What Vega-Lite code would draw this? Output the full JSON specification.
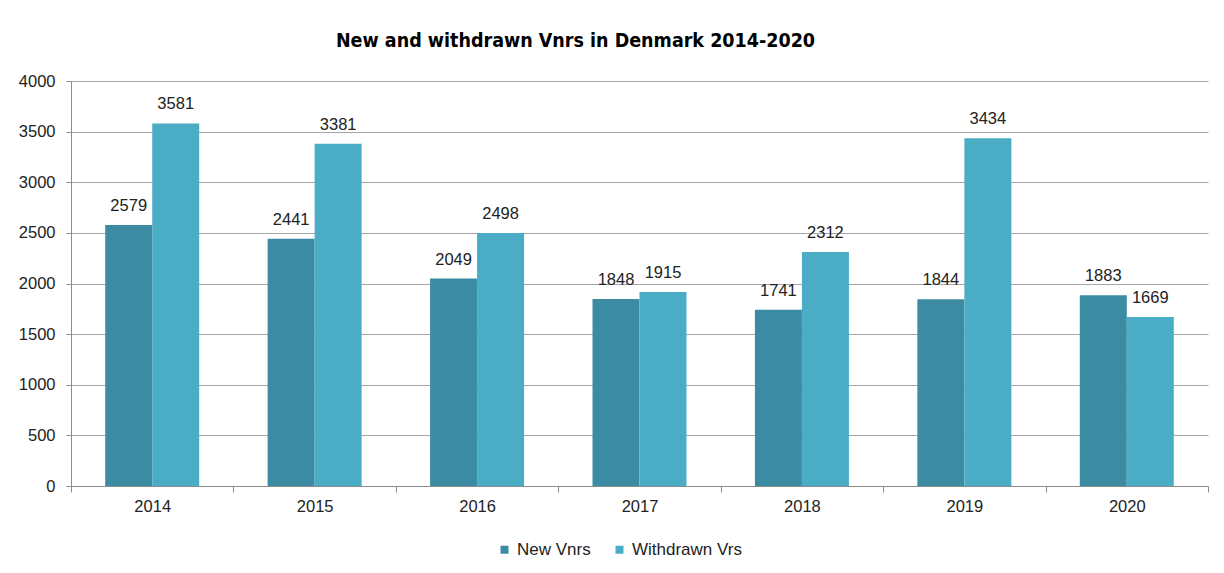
{
  "$schema": "https://vega.github.io/schema/vega-lite/v6.json",
  "width": 1137,
  "height": 405,
  "autosize": "none",
  "padding": {"left": 71, "top": 81, "right": 16, "bottom": 87},
  "background": "white",
  "title": {
    "text": "New and withdrawn Vnrs in Denmark 2014-2020",
    "font": "DejaVu Sans Condensed, Liberation Sans",
    "fontSize": 19.5,
    "fontWeight": "bold",
    "color": "#000000",
    "anchor": "middle",
    "frame": "group",
    "dx": -64,
    "offset": 22
  },
  "data": {
    "values": [
      {"year": "2014", "series": "New Vnrs", "value": 2579},
      {"year": "2014", "series": "Withdrawn Vrs", "value": 3581},
      {"year": "2015", "series": "New Vnrs", "value": 2441},
      {"year": "2015", "series": "Withdrawn Vrs", "value": 3381},
      {"year": "2016", "series": "New Vnrs", "value": 2049},
      {"year": "2016", "series": "Withdrawn Vrs", "value": 2498},
      {"year": "2017", "series": "New Vnrs", "value": 1848},
      {"year": "2017", "series": "Withdrawn Vrs", "value": 1915},
      {"year": "2018", "series": "New Vnrs", "value": 1741},
      {"year": "2018", "series": "Withdrawn Vrs", "value": 2312},
      {"year": "2019", "series": "New Vnrs", "value": 1844},
      {"year": "2019", "series": "Withdrawn Vrs", "value": 3434},
      {"year": "2020", "series": "New Vnrs", "value": 1883},
      {"year": "2020", "series": "Withdrawn Vrs", "value": 1669}
    ]
  },
  "encoding": {
    "x": {
      "field": "year",
      "type": "nominal",
      "scale": {"paddingInner": 0, "paddingOuter": 0},
      "axis": {
        "title": null,
        "labelAngle": 0,
        "labelFont": "Liberation Sans",
        "labelFontSize": 16.5,
        "labelColor": "#222222",
        "labelPadding": 6,
        "tickBand": "extent",
        "tickSize": 6,
        "tickColor": "#8c8c8c",
        "domainColor": "#8c8c8c",
        "grid": false
      }
    },
    "xOffset": {
      "field": "series",
      "type": "nominal",
      "scale": {"paddingInner": 0, "paddingOuter": 0.728}
    },
    "y": {
      "field": "value",
      "type": "quantitative",
      "scale": {"domain": [0, 4000], "nice": false},
      "axis": {
        "title": null,
        "values": [0, 500, 1000, 1500, 2000, 2500, 3000, 3500, 4000],
        "format": "d",
        "labelFont": "Liberation Sans",
        "labelFontSize": 16.5,
        "labelColor": "#222222",
        "labelPadding": 11,
        "tickSize": 5,
        "tickColor": "#8c8c8c",
        "domainColor": "#8c8c8c",
        "gridColor": "#a6a6a6",
        "gridWidth": 1
      }
    }
  },
  "layer": [
    {
      "mark": {"type": "bar"},
      "encoding": {
        "color": {
          "field": "series",
          "type": "nominal",
          "scale": {"domain": ["New Vnrs", "Withdrawn Vrs"], "range": ["#3B8BA3", "#4BACC6"]},
          "legend": {
            "title": null,
            "orient": "none",
            "direction": "horizontal",
            "legendX": 425,
            "legendY": 460,
            "symbolType": "square",
            "symbolSize": 64,
            "symbolStrokeWidth": 0,
            "labelFont": "Liberation Sans",
            "labelFontSize": 17,
            "labelColor": "#222222",
            "labelOffset": 4,
            "columnPadding": 20
          }
        }
      }
    },
    {
      "mark": {"type": "text", "baseline": "alphabetic", "dy": -14, "font": "Liberation Sans", "fontSize": 16.5, "color": "#222222"},
      "encoding": {
        "text": {"field": "value", "type": "quantitative", "format": "d"}
      }
    }
  ],
  "config": {"view": {"stroke": null}}
}
